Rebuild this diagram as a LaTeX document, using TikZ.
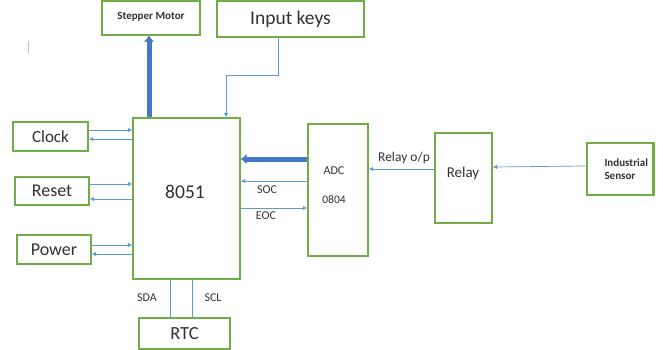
\documentclass[tikz,border=0pt]{standalone}
\usepackage{fontspec}
\setmainfont{Carlito}
\usetikzlibrary{arrows.meta}
\definecolor{boxgreen}{RGB}{112,173,71}
\definecolor{lineblue}{RGB}{91,155,213}
\definecolor{thickblue}{RGB}{68,120,196}
\definecolor{txt}{RGB}{50,50,50}
\begin{document}
\begin{tikzpicture}[x=1pt,y=-1pt,
  blk/.style={draw=boxgreen, line width=1.4pt, rectangle, inner sep=0pt, fill=white},
  sig/.style={draw=lineblue, line width=0.7pt, -{Latex[length=4.5pt,width=4.5pt]}},
  plain/.style={draw=lineblue, line width=0.7pt},
  bus/.style={draw=thickblue, line width=5pt, -{Latex[length=6pt,width=11pt]}},
  fs/.style={font=\fontsize{#1}{#1}\selectfont, text=txt}]
\useasboundingbox (0,0) rectangle (663,350);
% blocks
\node[blk, minimum width=98pt, minimum height=34pt] (stepm) at (151,18) {};
\node[fs=11, font=\bfseries\fontsize{11}{11}\selectfont] (tstep) at (151,17) {Stepper Motor};
\node[blk, minimum width=147pt, minimum height=36pt, fs=19.5] (keys) at (290.5,19) {Input keys};
\node[blk, minimum width=75pt, minimum height=29pt, fs=17] (clk) at (50.5,136.5) {Clock};
\node[blk, minimum width=74pt, minimum height=28pt, fs=18] (rst) at (52,191) {Reset};
\node[blk, minimum width=74pt, minimum height=29pt, fs=18] (pwr) at (54,249.5) {Power};
\node[blk, minimum width=107pt, minimum height=161pt] (mcu) at (186.5,198.5) {};
\node[fs=19.5] (tmcu) at (185,192) {8051};
\node[blk, minimum width=91pt, minimum height=31pt, fs=18.5] (rtc) at (184.5,333.5) {RTC};
\node[blk, minimum width=60pt, minimum height=132pt] (adc) at (338,190) {};
\node[fs=12] (tadc1) at (334,171) {ADC};
\node[fs=11.5] (tadc2) at (334,200) {0804};
\node[blk, minimum width=57pt, minimum height=90pt] (rly) at (463.5,178) {};
\node[fs=15] (trly) at (463,173) {Relay};
\node[blk, minimum width=66pt, minimum height=52pt] (sens) at (620,169) {};
\node[font=\bfseries\fontsize{11}{13}\selectfont, text=txt, align=left, anchor=west] (tsens) at (601,169.5) {Industrial\\Sensor};
\draw[boxgreen, line width=3pt] (sens.north east) -- (sens.south east);
\draw[black!25, line width=0.8pt] (28,41) -- (28,53);
% thick buses
\draw[bus] (mcu.north -| 149,0) -- (stepm.south -| 149,0);
\draw[bus] (adc.west |- 0,159) -- (mcu.east |- 0,159);
% input keys
\draw[sig] (keys.south -| 278,0) -- (278,75) -- (226,75) -- (mcu.north -| 226,0);
% clock / reset / power
\draw[sig] (clk.east |- 0,130) -- (mcu.west |- 0,130);
\draw[sig] (mcu.west |- 0,139) -- (clk.east |- 0,139);
\draw[sig] (rst.east |- 0,184) -- (mcu.west |- 0,184);
\draw[sig] (mcu.west |- 0,199) -- (rst.east |- 0,199);
\draw[sig] (pwr.east |- 0,245) -- (mcu.west |- 0,245);
\draw[sig] (mcu.west |- 0,254) -- (pwr.east |- 0,254);
% SOC / EOC
\draw[sig] (adc.west |- 0,181) -- (mcu.east |- 0,181);
\node[fs=12] (lsoc) at (267,190) {SOC};
\draw[sig] (mcu.east |- 0,208) -- (adc.west |- 0,208);
\node[fs=12] (leoc) at (266,216) {EOC};
% relay chain
\draw[sig] (rly.west |- 0,169) -- (adc.east |- 0,169);
\node[fs=13.5] (lrly) at (404,158) {Relay o/p};
\draw[sig] (sens.west |- 0,166) -- (rly.east |- 0,167);
% I2C
\draw[plain] (mcu.south -| 170,0) -- (rtc.north -| 170,0);
\draw[plain] (mcu.south -| 192,0) -- (rtc.north -| 192,0);
\node[fs=12] (lsda) at (147,298) {SDA};
\node[fs=12] (lscl) at (213,298) {SCL};
\end{tikzpicture}
\end{document}
